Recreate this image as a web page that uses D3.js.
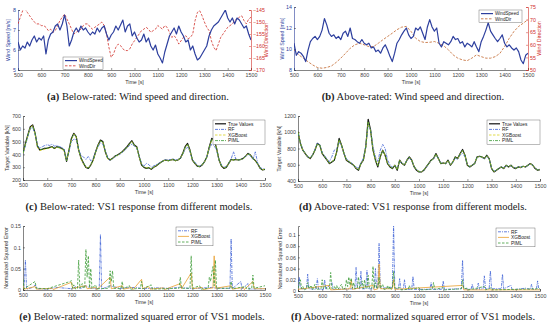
<!doctype html>
<html lang="en">
<head>
<meta charset="utf-8">
<title>Wind conditions and VS1 model responses</title>
<script src="https://d3js.org/d3.v7.min.js"></script>
<style>
  html, body { margin: 0; padding: 0; background: #fff; }
  svg text { font-family: "Liberation Sans", Arial, sans-serif; }
  .cap { font-family: "Liberation Serif", "DejaVu Serif", serif; font-size: 10.5px; fill: #222; }
</style>
</head>
<body>
<svg id="fig" width="550" height="326"></svg>
<script>
// ---- data ----
const timeTicks = [500, 600, 700, 800, 900, 1000, 1100, 1200, 1300, 1400, 1500];
const time10 = d3.range(500, 1501, 10);
const time20 = d3.range(500, 1501, 20);

// (a) below-rated wind, 10 s samples
const windSpeedBelow = [6.4,6.0,6.2,6.1,6.4,6.2,6.5,6.7,6.4,6.6,
  6.5,6.7,5.8,6.5,6.8,6.9,7.2,7.3,7.0,7.3,
  7.75,7.2,6.2,6.5,6.9,7.1,6.9,7.2,7.0,7.1,
  6.9,6.75,6.9,6.8,7.1,6.9,7.1,7.2,6.8,6.5,
  6.75,6.9,7.2,7.0,7.25,7.5,6.9,7.2,7.3,6.7,
  6.9,6.6,6.4,6.5,6.8,6.4,6.6,6.2,6.0,6.25,
  5.8,5.6,5.35,5.9,6.3,6.7,6.9,7.1,6.8,7.2,
  6.9,6.7,6.4,6.5,6.0,6.2,5.8,5.5,5.6,5.8,
  6.0,6.2,6.7,7.0,7.2,7.3,7.4,7.6,7.8,8.0,
  7.6,7.4,7.6,7.3,7.6,7.5,7.3,7.1,7.2,6.8,
  6.5];
const windDirBelow = [-150.8,-148,-145.3,-144.6,-146,-147.4,-148.8,-150,-150.8,-150.8,
  -151.5,-151.5,-152.2,-153.6,-153,-154.3,-153.6,-151.5,-149.4,-148,
  -146.7,-148.8,-150.8,-153,-155,-154.3,-153.6,-153,-151.5,-150.8,
  -150.8,-152.2,-153,-152.2,-151.5,-150.8,-150,-151.5,-155,-160.5,
  -164.7,-163.3,-160.5,-159.2,-159.8,-161.2,-161.9,-161.9,-161.2,-159.2,
  -157.8,-156.4,-155,-153.6,-153,-152.2,-153,-154.3,-153.6,-153,
  -151.5,-152.2,-153,-151.5,-152.2,-154.3,-156.4,-155.7,-157,-159.2,
  -157.8,-156.4,-155.7,-157,-156.4,-155,-149.4,-146,-145.3,-147.4,
  -150,-152.2,-153.6,-157.8,-160.5,-161.9,-159.2,-156.4,-155,-153.6,
  -152.2,-151.5,-150.8,-149.4,-148.8,-148,-147.4,-149.4,-150.8,-148.8,
  -148];

// (b) above-rated wind
const windSpeedAbove = [10.55,9.4,9.75,9.6,9.3,8.8,9.9,10.7,11.0,11.2,
  10.9,11.2,11.8,12.9,12.3,11.5,11.2,11.35,11.0,11.2,
  10.9,11.5,11.7,11.2,12.0,11.0,10.9,10.7,10.55,10.9,
  10.55,10.4,10.55,10.1,10.2,9.75,9.9,9.6,10.1,10.4,
  9.9,9.3,8.8,9.6,10.55,10.9,11.35,11.7,12.0,11.35,
  11.0,11.2,12.0,11.8,12.1,11.5,10.9,12.1,12.8,12.1,
  11.7,12.0,10.55,10.2,10.7,10.55,10.4,10.7,11.2,10.9,
  11.0,10.55,10.7,10.2,10.55,10.4,10.2,10.7,10.2,9.75,
  10.7,11.2,11.8,12.5,11.7,11.35,11.0,10.7,11.0,11.35,
  10.55,10.2,10.4,10.1,9.9,10.1,9.75,8.95,8.6,9.4,
  9.6];
const windDirAbove = [58,56,54.7,53.3,52,51,50.7,51,51.6,53,
  54.7,56.6,58.6,60,60.6,60,59.3,59.3,60.6,62,
  63.3,64.6,66,67,67.3,65.3,62.6,61.3,60.9,61,
  61.3,60.6,59.6,58,56,54.7,54,53.7,54.7,56,
  55.3,54.7,54.7,55.3,56.6,59.3,62.6,65.3,67.3,68.6,
  70];

// (c) below-rated VS1 response [kN], 10 s samples
const trueBelow = [408,486,552,617,630,565,460,434,440,447,
  447,455,460,447,460,455,447,434,345,434,
  525,565,539,434,369,330,299,291,317,356,
  421,473,512,500,421,369,356,369,387,395,
  408,421,440,460,486,507,473,460,382,317,
  299,291,296,283,299,309,325,338,351,356,
  351,356,361,351,356,369,408,460,486,434,
  356,330,309,304,317,343,382,460,525,512,
  447,356,309,291,299,330,361,356,361,356,
  361,369,387,408,395,369,351,325,291,278,
  283];
const rfBelow = [400,470,540,600,610,560,470,450,460,470,
  475,470,480,465,470,460,455,440,360,420,
  500,520,515,440,390,380,360,385,350,370,
  420,460,490,480,430,380,350,365,380,390,
  400,415,430,450,470,480,465,450,390,330,
  310,330,320,300,310,320,330,340,350,360,
  355,360,365,355,360,370,400,440,455,420,
  360,340,315,310,320,345,380,445,480,470,
  430,360,315,300,305,330,365,420,360,355,
  360,370,385,400,390,360,420,330,300,285,
  290];
const xgbBelow = [405,480,545,610,625,560,455,430,435,440,
  445,450,455,445,455,450,440,430,350,430,
  515,560,535,430,365,325,300,295,315,350,
  415,470,505,495,420,365,355,365,385,390,
  405,420,435,455,480,500,470,455,380,320,
  300,295,298,288,300,310,325,338,350,355,
  350,355,360,350,355,368,405,455,480,430,
  355,330,310,305,318,342,380,455,515,505,
  445,355,310,295,300,330,360,355,360,355,
  360,368,385,405,395,368,350,325,292,280,
  285];
const pimlBelow = [410,480,545,605,620,565,465,438,442,448,
  448,455,458,448,458,455,446,435,350,432,
  520,560,540,438,372,335,302,293,318,358,
  418,470,505,498,425,372,358,368,386,394,
  406,420,438,458,482,500,472,458,384,320,
  301,292,297,286,300,310,326,338,350,356,
  350,356,360,352,356,368,404,455,478,432,
  358,332,310,305,318,344,382,456,518,508,
  446,358,310,293,300,330,360,356,360,356,
  360,368,386,405,394,368,351,326,293,280,
  284];

// (d) above-rated VS1 response [kN]
const trueAbove = [1006,862,779,738,697,676,717,779,862,841,
  738,697,656,614,635,656,759,924,841,738,
  656,635,614,594,553,532,614,656,821,1160,
  1027,779,656,573,697,779,717,614,573,553,
  594,532,656,614,594,656,697,656,573,532,
  511,511,532,573,614,656,676,738,676,614,
  622,614,656,594,635,697,676,738,788,717,
  594,573,594,614,697,705,697,676,717,676,
  553,511,532,553,573,553,594,573,594,565,
  553,573,565,581,573,594,614,594,553,532,
  540];
const rfAbove = [990,870,790,740,700,690,720,790,870,850,
  750,710,670,640,700,780,800,880,830,740,
  670,650,625,600,570,560,620,680,830,1080,
  1040,820,700,640,780,850,800,660,600,570,
  590,560,640,620,600,650,680,650,580,540,
  520,515,535,570,610,650,670,720,680,620,
  625,615,650,600,630,680,670,720,740,700,
  600,580,595,615,690,700,690,670,700,670,
  560,520,535,555,575,560,590,575,590,570,
  560,575,570,580,575,590,610,595,560,540,
  545];
const xgbAbove = [1000,865,780,740,700,680,715,780,855,840,
  740,700,660,620,640,660,760,905,840,740,
  660,640,618,598,558,540,612,655,815,1120,
  1020,785,660,590,700,775,715,618,578,558,
  596,538,652,615,596,654,692,655,578,538,
  516,514,534,574,612,652,672,730,675,615,
  622,615,652,598,635,692,675,732,775,715,
  598,578,596,615,692,700,695,676,712,676,
  558,516,534,555,574,556,594,575,594,568,
  556,574,566,580,574,594,612,595,556,536,
  540];
const pimlAbove = [995,860,782,742,702,680,716,782,858,842,
  742,702,660,618,638,658,758,910,842,742,
  660,638,616,596,556,538,614,656,818,1130,
  1020,782,660,585,700,778,716,616,576,556,
  596,536,654,616,596,656,694,656,578,536,
  516,513,534,574,614,654,674,732,676,616,
  622,614,654,596,634,694,676,734,778,716,
  596,576,596,614,694,702,696,676,714,676,
  556,514,534,554,574,556,594,574,594,566,
  556,574,566,580,574,594,612,594,556,535,
  540];

// (e) below-rated normalized squared error, [time, value]
const rfErrBelow = [[500,0.004],[505,0.01],[510,0.07],[515,0.002],[540,0.006],[550,0.012],[560,0.003],[600,0.002],[640,0.006],[700,0.003],[720,0.008],[740,0.004],[760,0.01],[780,0.004],[815,0.003],[820,0.13],[825,0.002],[860,0.01],[900,0.004],[960,0.006],[1000,0.003],[1050,0.005],[1100,0.004],[1150,0.006],[1200,0.003],[1250,0.005],[1280,0.006],[1300,0.004],[1355,0.004],[1360,0.12],[1365,0.003],[1400,0.02],[1405,0.003],[1430,0.015],[1435,0.002],[1500,0.003]];
const xgbErrBelow = [[500,0.01],[505,0.002],[550,0.008],[555,0.002],[620,0.004],[625,0.001],[700,0.018],[705,0.004],[740,0.008],[760,0.01],[765,0.003],[800,0.006],[805,0.001],[860,0.03],[865,0.003],[910,0.01],[915,0.002],[950,0.006],[955,0.001],[990,0.025],[995,0.003],[1020,0.008],[1025,0.002],[1080,0.005],[1085,0.001],[1150,0.015],[1155,0.003],[1195,0.04],[1200,0.003],[1240,0.006],[1245,0.001],[1285,0.005],[1290,0.08],[1295,0.004],[1360,0.01],[1365,0.002],[1410,0.006],[1415,0.001],[1450,0.02],[1455,0.003],[1500,0.003]];
const pimlErrBelow = [[500,0.025],[505,0.003],[550,0.02],[555,0.004],[600,0.003],[695,0.02],[700,0.022],[705,0.004],[710,0.012],[715,0.003],[725,0.003],[730,0.07],[735,0.004],[745,0.015],[750,0.004],[755,0.005],[760,0.095],[765,0.03],[770,0.08],[775,0.005],[780,0.05],[785,0.004],[800,0.012],[805,0.003],[855,0.004],[860,0.045],[865,0.02],[870,0.045],[875,0.004],[905,0.003],[910,0.02],[915,0.003],[940,0.01],[945,0.002],[985,0.004],[990,0.02],[995,0.003],[1030,0.012],[1035,0.002],[1145,0.004],[1150,0.03],[1155,0.004],[1190,0.004],[1195,0.08],[1200,0.004],[1230,0.01],[1235,0.002],[1265,0.004],[1270,0.03],[1275,0.02],[1280,0.04],[1285,0.055],[1290,0.01],[1295,0.07],[1300,0.004],[1355,0.004],[1360,0.02],[1365,0.003],[1420,0.008],[1425,0.002],[1445,0.004],[1450,0.035],[1455,0.004],[1500,0.01]];

// (f) above-rated normalized squared error
const rfErrAbove = [[500,0.005],[505,0.025],[510,0.004],[535,0.004],[540,0.03],[545,0.004],[575,0.003],[580,0.022],[585,0.003],[605,0.003],[610,0.02],[615,0.003],[640,0.015],[645,0.003],[735,0.004],[740,0.042],[745,0.005],[755,0.004],[760,0.035],[765,0.004],[780,0.004],[785,0.037],[790,0.004],[815,0.004],[820,0.04],[825,0.005],[830,0.006],[835,0.085],[840,0.005],[890,0.006],[895,0.12],[900,0.006],[915,0.003],[920,0.022],[925,0.003],[935,0.003],[940,0.02],[945,0.003],[970,0.003],[975,0.026],[980,0.003],[1045,0.003],[1050,0.015],[1055,0.003],[1095,0.003],[1100,0.018],[1105,0.003],[1175,0.004],[1180,0.055],[1185,0.004],[1215,0.003],[1220,0.012],[1225,0.003],[1240,0.003],[1245,0.014],[1250,0.003],[1265,0.004],[1270,0.027],[1275,0.004],[1290,0.004],[1295,0.036],[1300,0.004],[1340,0.004],[1345,0.03],[1350,0.004],[1380,0.01],[1385,0.002],[1440,0.005],[1460,0.003],[1465,0.012],[1470,0.003],[1485,0.003],[1490,0.018],[1495,0.003],[1500,0.004]];
const xgbErrAbove = [[500,0.003],[630,0.01],[635,0.002],[715,0.004],[720,0.02],[725,0.003],[810,0.01],[815,0.002],[830,0.004],[835,0.048],[840,0.004],[890,0.004],[895,0.02],[900,0.003],[1180,0.01],[1185,0.002],[1500,0.002]];
const pimlErrAbove = [[500,0.005],[510,0.02],[515,0.004],[520,0.008],[525,0.002],[535,0.004],[540,0.015],[545,0.004],[555,0.01],[560,0.002],[570,0.012],[575,0.003],[595,0.004],[600,0.02],[605,0.004],[615,0.01],[620,0.003],[630,0.004],[635,0.033],[640,0.004],[650,0.008],[655,0.003],[660,0.01],[665,0.003],[680,0.012],[685,0.003],[695,0.005],[700,0.02],[705,0.008],[710,0.025],[715,0.01],[720,0.023],[725,0.005],[730,0.015],[735,0.004],[745,0.005],[750,0.025],[755,0.005],[765,0.018],[770,0.004],[775,0.02],[780,0.005],[785,0.005],[790,0.028],[795,0.005],[805,0.005],[810,0.044],[815,0.006],[820,0.015],[825,0.004],[830,0.006],[835,0.025],[840,0.005],[850,0.012],[855,0.003],[865,0.003],[870,0.01],[875,0.003],[880,0.008],[885,0.003],[890,0.005],[895,0.035],[900,0.005],[920,0.006],[925,0.002],[955,0.003],[960,0.01],[965,0.003],[1000,0.006],[1005,0.002],[1055,0.003],[1060,0.015],[1065,0.003],[1100,0.006],[1105,0.002],[1175,0.004],[1180,0.02],[1185,0.004],[1200,0.005],[1205,0.002],[1270,0.008],[1275,0.002],[1300,0.006],[1305,0.002],[1500,0.004]];

// ---- drawing ----
const svg = d3.select("#fig");
const axisColor = "#333";
const blue = "#2d3f9e", red = "#d0302a";
const rfColor = "#3f62d6", xgbColor = "#d9d21c", pimlColor = "#3b9a35", xgbErrColor = "#e8a030";
let clipId = 0;

function panel(p) {
  const g = svg.append("g");
  const x = d3.scaleLinear().domain([500, 1500]).range([p.left, p.right]);
  const y = d3.scaleLinear().domain(p.yDomain).range([p.bottom, p.top]);

  const id = "clip" + (clipId++);
  g.append("clipPath").attr("id", id).append("rect")
    .attr("x", p.left).attr("y", p.top)
    .attr("width", p.right - p.left).attr("height", p.bottom - p.top);

  const xAxis = g.append("g").attr("transform", `translate(0,${p.bottom})`)
    .call(d3.axisBottom(x).tickValues(timeTicks).tickSize(-2).tickPadding(3).tickFormat(d3.format("d")));
  const yAxis = g.append("g").attr("transform", `translate(${p.left},0)`)
    .call(d3.axisLeft(y).tickValues(p.yTicks).tickSize(-2).tickPadding(2).tickFormat(p.yFmt || (d => d)));
  [xAxis, yAxis].forEach(a => {
    a.select(".domain").attr("stroke", axisColor).attr("stroke-width", 0.6);
    a.selectAll(".tick line").attr("stroke", axisColor).attr("stroke-width", 0.5);
    a.selectAll("text").attr("font-size", 5.3).attr("fill", "#444")
      .attr("font-family", "Liberation Sans, Arial, sans-serif");
  });
  if (p.yColor) {
    yAxis.select(".domain").attr("stroke", p.yColor);
    yAxis.selectAll("text").attr("fill", p.yColor);
  }

  g.append("text").attr("x", (p.left + p.right) / 2).attr("y", p.bottom + 14)
    .attr("text-anchor", "middle").attr("font-size", 5.3).attr("fill", "#333").text("Time [s]");
  g.append("text")
    .attr("transform", `translate(${p.left - p.yLabelOff},${(p.top + p.bottom) / 2}) rotate(-90)`)
    .attr("text-anchor", "middle").attr("font-size", 5.3)
    .attr("fill", p.yColor || "#333").text(p.yLabel);

  let y2 = null;
  if (p.y2Domain) {
    y2 = d3.scaleLinear().domain(p.y2Domain).range([p.bottom, p.top]);
    const r = g.append("g").attr("transform", `translate(${p.right},0)`)
      .call(d3.axisRight(y2).tickValues(p.y2Ticks).tickSize(-2).tickPadding(2));
    r.select(".domain").attr("stroke", p.y2Color).attr("stroke-width", 0.6);
    r.selectAll(".tick line").attr("stroke", p.y2Color).attr("stroke-width", 0.5);
    r.selectAll("text").attr("font-size", 5.3).attr("fill", p.y2Color)
      .attr("font-family", "Liberation Sans, Arial, sans-serif");
    g.append("text")
      .attr("transform", `translate(${p.right + p.y2LabelOff},${(p.top + p.bottom) / 2}) rotate(-90)`)
      .attr("text-anchor", "middle").attr("font-size", 5.3)
      .attr("fill", p.y2Color).text(p.y2Label);
  }

  const plot = g.append("g").attr("clip-path", `url(#${id})`);
  p.series.forEach(s => {
    const ys = s.right ? y2 : y;
    const line = d3.line().x(d => x(d[0])).y(d => ys(d[1]));
    plot.append("path").datum(s.points)
      .attr("fill", "none").attr("stroke", s.color).attr("stroke-width", s.width || 0.8)
      .attr("stroke-dasharray", s.dash || null).attr("stroke-linejoin", "round")
      .attr("d", line);
  });

  // legend
  const L = p.legend;
  const lg = g.append("g");
  lg.append("rect").attr("x", L.x).attr("y", L.y).attr("width", L.w)
    .attr("height", L.rowH * L.items.length + 2)
    .attr("fill", "#fff").attr("stroke", "#555").attr("stroke-width", 0.4);
  L.items.forEach((it, i) => {
    const cy = L.y + 1 + L.rowH * (i + 0.5);
    lg.append("line").attr("x1", L.x + 2).attr("x2", L.x + 2 + L.sample)
      .attr("y1", cy).attr("y2", cy)
      .attr("stroke", it.color).attr("stroke-width", it.width || 0.8)
      .attr("stroke-dasharray", it.dash || null);
    lg.append("text").attr("x", L.x + 4 + L.sample).attr("y", cy + 1.7)
      .attr("font-size", L.font).attr("fill", "#222").text(it.label);
  });
}

const zip = (t, v) => v.map((d, i) => [t[i], d]);
const byTime = pts => pts.slice().sort((a, b) => a[0] - b[0]);
const pct = d3.format(".2~f");

panel({
  left: 18, right: 251, top: 10, bottom: 70,
  yDomain: [5, 8], yTicks: [5, 6, 7, 8], yColor: blue, yLabel: "Wind Speed [m/s]", yLabelOff: 8,
  y2Domain: [-170, -145], y2Ticks: [-170, -165, -160, -155, -150, -145], y2Color: red,
  y2Label: "Wind Direction", y2LabelOff: 17,
  series: [
    { points: zip(time10, windDirBelow), color: red, dash: "2.5,1.5", width: 0.8, right: true },
    { points: zip(time10, windSpeedBelow), color: blue, width: 1.2 }
  ],
  legend: { x: 63, y: 57, w: 40, rowH: 5.2, sample: 12, font: 4.6,
    items: [{ label: "WindSpeed", color: blue, width: 1.2 }, { label: "WindDir", color: red, dash: "2.5,1.5" }] }
});

const brown = "#c0632a";
panel({
  left: 294, right: 528, top: 7, bottom: 70,
  yDomain: [8, 14], yTicks: [8, 10, 12, 14], yColor: blue, yLabel: "Wind Speed [m/s]", yLabelOff: 10,
  y2Domain: [50, 75], y2Ticks: [50, 55, 60, 65, 70, 75], y2Color: red,
  y2Label: "Wind Direction", y2LabelOff: 13,
  series: [
    { points: zip(time20, windDirAbove), color: brown, dash: "2.5,1.5", width: 0.8, right: true },
    { points: zip(time10, windSpeedAbove), color: blue, width: 1.2 }
  ],
  legend: { x: 479, y: 10, w: 43, rowH: 5.2, sample: 12, font: 4.6,
    items: [{ label: "WindSpeed", color: blue, width: 1.2 }, { label: "WindDir", color: brown, dash: "2.5,1.5" }] }
});

const modelItems = [
  { label: "True Values", color: "#111", width: 1.2 },
  { label: "RF", color: rfColor, dash: "3,1,1,1" },
  { label: "XGBoost", color: xgbColor, dash: "2.5,1.5" },
  { label: "PIML", color: pimlColor, dash: "3,1,1,1" }
];

panel({
  left: 23, right: 265, top: 116, bottom: 180,
  yDomain: [200, 700], yTicks: [200, 300, 400, 500, 600, 700], yLabel: "Target Variable [kN]", yLabelOff: 14,
  series: [
    { points: zip(time10, trueBelow), color: "#111", width: 1.2 },
    { points: zip(time10, rfBelow), color: rfColor, dash: "3,1,1,1" },
    { points: zip(time10, xgbBelow), color: xgbColor, dash: "2.5,1.5" },
    { points: zip(time10, pimlBelow), color: pimlColor, dash: "3,1,1,1" }
  ],
  legend: { x: 213, y: 120, w: 52, rowH: 5.6, sample: 11, font: 4.8, items: modelItems }
});

panel({
  left: 298, right: 540, top: 116, bottom: 181,
  yDomain: [400, 1200], yTicks: [400, 600, 800, 1000, 1200], yLabel: "Target Variable [kN]", yLabelOff: 17,
  series: [
    { points: zip(time10, trueAbove), color: "#111", width: 1.2 },
    { points: zip(time10, rfAbove), color: rfColor, dash: "3,1,1,1" },
    { points: zip(time10, xgbAbove), color: xgbColor, dash: "2.5,1.5" },
    { points: zip(time10, pimlAbove), color: pimlColor, dash: "3,1,1,1" }
  ],
  legend: { x: 487, y: 120, w: 53, rowH: 5.6, sample: 11, font: 4.8, items: modelItems }
});

const errItems = [
  { label: "RF", color: rfColor, dash: "3,1,1,1" },
  { label: "XGBoost", color: xgbErrColor },
  { label: "PIML", color: pimlColor, dash: "2.5,1.5" }
];

panel({
  left: 23, right: 265, top: 226, bottom: 290,
  yDomain: [0, 0.15], yTicks: [0, 0.05, 0.1, 0.15], yFmt: pct,
  yLabel: "Normalized Squared Error", yLabelOff: 15,
  series: [
    { points: byTime(rfErrBelow), color: rfColor, dash: "3,1,1,1" },
    { points: byTime(xgbErrBelow), color: xgbErrColor },
    { points: byTime(pimlErrBelow), color: pimlColor, dash: "2.5,1.5" }
  ],
  legend: { x: 176, y: 227, w: 37, rowH: 5.6, sample: 11, font: 4.8, items: errItems }
});

panel({
  left: 298, right: 540, top: 226, bottom: 291,
  yDomain: [0, 0.116], yTicks: [0, 0.02, 0.04, 0.06, 0.08, 0.1], yFmt: pct,
  yLabel: "Normalized Squared Error", yLabelOff: 16,
  series: [
    { points: byTime(rfErrAbove), color: rfColor, dash: "3,1,1,1" },
    { points: byTime(xgbErrAbove), color: xgbErrColor },
    { points: byTime(pimlErrAbove), color: pimlColor, dash: "2.5,1.5" }
  ],
  legend: { x: 496, y: 228, w: 39, rowH: 5.6, sample: 11, font: 4.8, items: errItems }
});

// captions
const captions = [
  { x: 138, y: 100, tag: "(a)", text: " Below-rated: Wind speed and direction." },
  { x: 413, y: 100, tag: "(b)", text: " Above-rated: Wind speed and direction." },
  { x: 139, y: 210, tag: "(c)", text: " Below-rated: VS1 response from different models." },
  { x: 413, y: 210, tag: "(d)", text: " Above-rated: VS1 response from different models." },
  { x: 142, y: 320, tag: "(e)", text: " Below-rated: normalized squared error of VS1 models." },
  { x: 413, y: 320, tag: "(f)", text: " Above-rated: normalized squared error of VS1 models." }
];
captions.forEach(c => {
  const t = svg.append("text").attr("class", "cap").attr("x", c.x).attr("y", c.y).attr("text-anchor", "middle");
  t.append("tspan").attr("font-weight", "bold").text(c.tag);
  t.append("tspan").text(c.text);
});
</script>
</body>
</html>
